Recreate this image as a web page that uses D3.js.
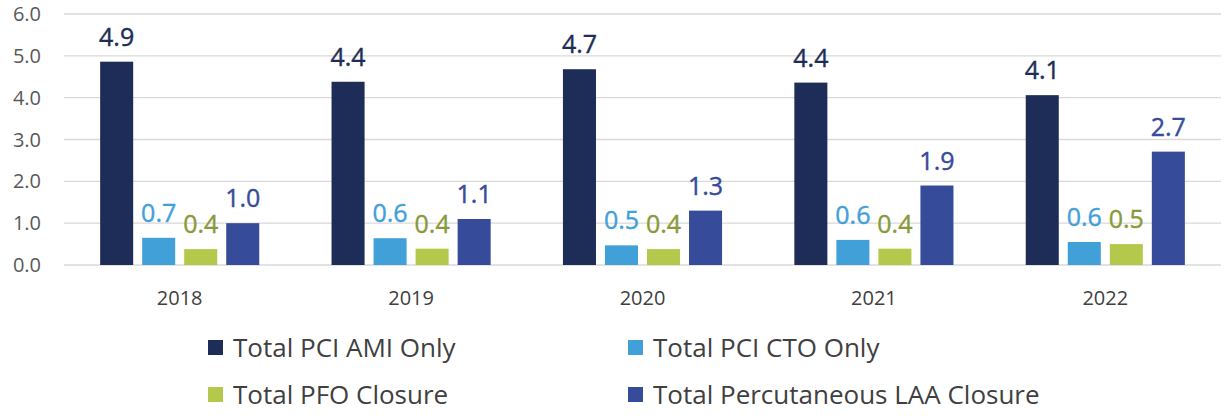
<!DOCTYPE html>
<html>
<head>
<meta charset="utf-8">
<script src="https://cdn.jsdelivr.net/npm/d3@7"></script>
<style>
  body { margin: 0; background: #fff; }
  text { font-family: "Open Sans", "Noto Sans", sans-serif; }
</style>
</head>
<body>
<div id="chart"></div>
<script>
const years = ["2018", "2019", "2020", "2021", "2022"];
const seriesNames = ["Total PCI AMI Only", "Total PCI CTO Only", "Total PFO Closure", "Total Percutaneous LAA Closure"];
const amiOnly = [4.86, 4.38, 4.68, 4.36, 4.06];
const ctoOnly = [0.65, 0.64, 0.47, 0.60, 0.55];
const pfoClosure = [0.38, 0.39, 0.38, 0.39, 0.50];
const laaClosure = [1.00, 1.10, 1.30, 1.90, 2.71];
const yTicks = [0, 1, 2, 3, 4, 5, 6];

const barColors = ["#1d2d58", "#42a0d9", "#b4c84b", "#364c9b"];
const labelColors = ["#1d2d58", "#42a0d9", "#889a3a", "#364c9b"];

const seriesValues = [amiOnly, ctoOnly, pfoClosure, laaClosure];

const W = 1230, H = 416;
const svg = d3.select("#chart").append("svg")
    .attr("width", W)
    .attr("height", H);

const x0 = d3.scaleBand().domain(years).range([64, 1221]).paddingInner(0).paddingOuter(0);
const x1 = d3.scaleBand().domain(seriesNames).range([0, x0.bandwidth()])
    .paddingInner(0.214).paddingOuter(0.86);
const y = d3.scaleLinear().domain([0, 6]).range([265, 14]);

// grid
svg.append("g")
    .selectAll("line")
    .data(yTicks)
    .enter().append("line")
    .attr("x1", 64).attr("x2", 1221)
    .attr("y1", d => y(d)).attr("y2", d => y(d))
    .attr("stroke", "#d9d9d9")
    .attr("stroke-width", 1.3);

// y axis labels
svg.append("g")
    .selectAll("text")
    .data(yTicks)
    .enter().append("text")
    .attr("x", 41)
    .attr("y", d => y(d))
    .attr("dy", "0.35em")
    .attr("text-anchor", "end")
    .attr("font-size", 20)
    .attr("fill", "#595959")
    .text(d => d3.format(".1f")(d));

// x labels
svg.append("g")
    .selectAll("text")
    .data(years)
    .enter().append("text")
    .attr("x", d => x0(d) + x0.bandwidth() / 2)
    .attr("y", 305)
    .attr("text-anchor", "middle")
    .attr("font-size", 20)
    .attr("fill", "#404040")
    .text(d => d);

// bars and value labels
const groups = svg.append("g")
    .selectAll("g")
    .data(years)
    .enter().append("g")
    .attr("transform", d => `translate(${x0(d)},0)`);

groups.selectAll("rect")
    .data((d, i) => seriesNames.map((s, j) => ({ s, j, v: seriesValues[j][i] })))
    .enter().append("rect")
    .attr("x", d => x1(d.s))
    .attr("width", x1.bandwidth())
    .attr("y", d => y(d.v))
    .attr("height", d => y(0) - y(d.v))
    .attr("fill", d => barColors[d.j]);

groups.selectAll("text")
    .data((d, i) => seriesNames.map((s, j) => ({ s, j, v: seriesValues[j][i] })))
    .enter().append("text")
    .attr("x", d => x1(d.s) + x1.bandwidth() / 2)
    .attr("y", d => y(d.v) - 16)
    .attr("text-anchor", "middle")
    .attr("font-size", 25)
    .attr("fill", d => labelColors[d.j])
    .attr("stroke", d => labelColors[d.j])
    .attr("stroke-width", 0.4)
    .text(d => d3.format(".1f")(d.v));

// legend
const legendPos = [[208, 348], [628, 348], [208, 395], [628, 395]];
const legend = svg.append("g")
    .selectAll("g")
    .data(seriesNames)
    .enter().append("g")
    .attr("transform", (d, i) => `translate(${legendPos[i][0]},${legendPos[i][1]})`);

legend.append("rect")
    .attr("x", 0).attr("y", -8)
    .attr("width", 15).attr("height", 15)
    .attr("fill", (d, i) => barColors[i]);

legend.append("text")
    .attr("x", 25)
    .attr("y", 0)
    .attr("dy", "0.35em")
    .attr("font-size", 26)
    .attr("fill", "#404040")
    .text(d => d);
</script>
</body>
</html>
